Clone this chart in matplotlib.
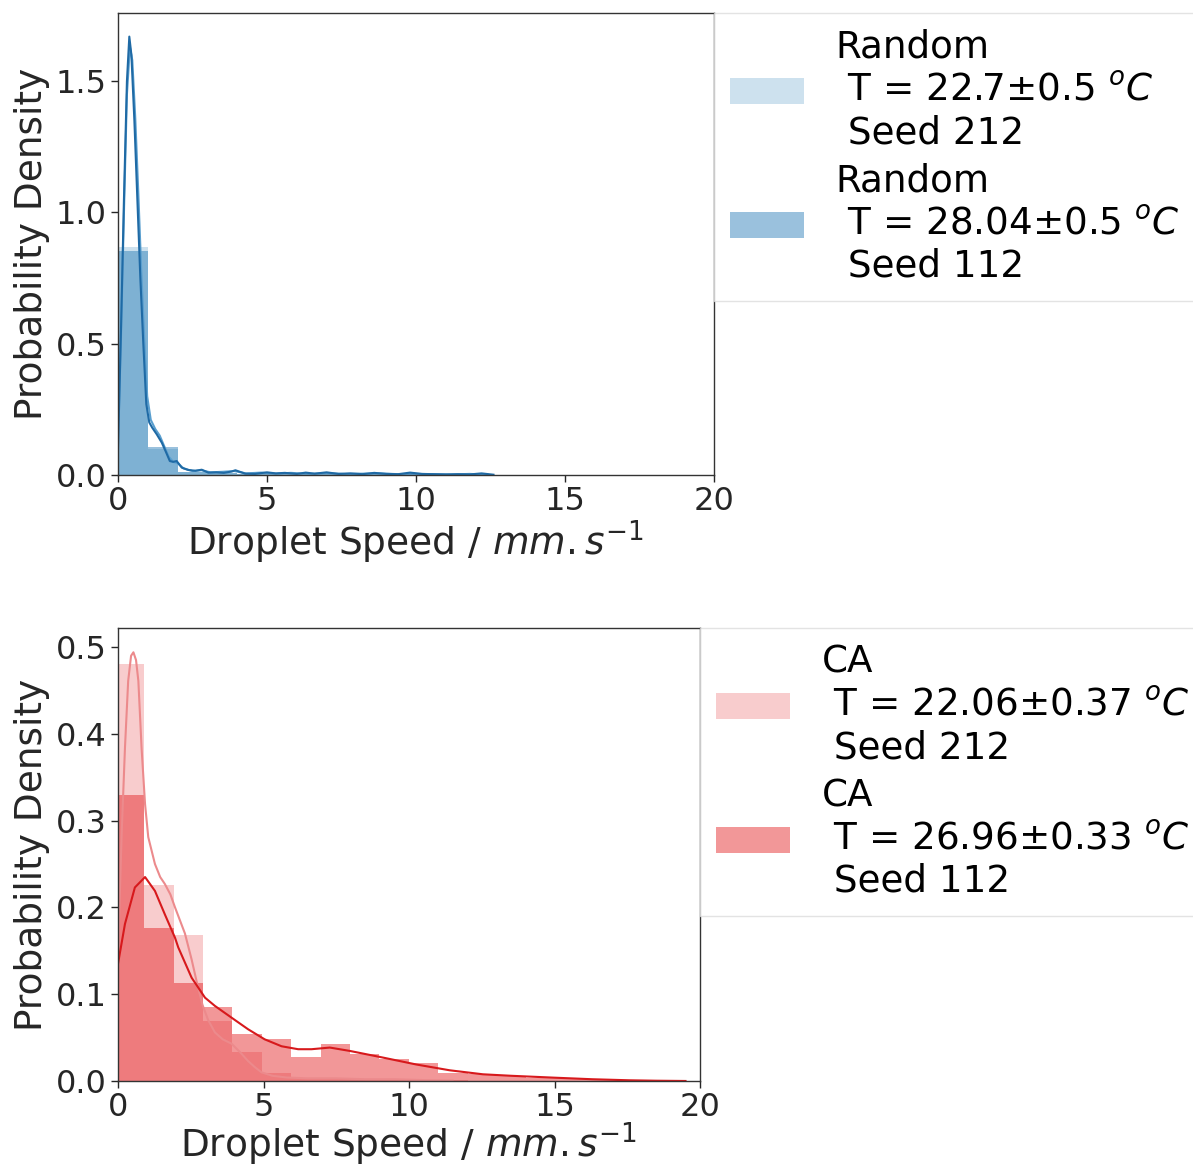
import numpy as np
import matplotlib
matplotlib.use("Agg")
import matplotlib.pyplot as plt

# ---- top panel: Random, histogram bins (width 1) ----
rand_edges = [0, 1, 2, 3, 4, 5, 6, 7, 8, 9, 10, 11, 12, 13]
rand_212_hist = [0.87, 0.10, 0.011, 0.006, 0.004, 0.003, 0.003, 0.002, 0.002, 0.001, 0.001, 0.001, 0.001]
rand_112_hist = [0.855, 0.105, 0.012, 0.006, 0.004, 0.003, 0.002, 0.002, 0.002, 0.001, 0.001, 0.001, 0.001]

# kde curves
rand_112_kde_x = [0, 0.1, 0.2, 0.3, 0.38, 0.45, 0.55, 0.65, 0.75, 0.85, 0.95, 1.05, 1.15, 1.3, 1.47,
                  1.6, 1.74, 1.85, 1.97, 2.14, 2.36, 2.6, 2.81, 3.03, 3.3, 3.55, 3.81, 3.94, 4.27, 4.6,
                  5.0, 5.3, 5.6, 6.0, 6.3, 6.6, 7.0, 7.4, 7.8, 8.2, 8.6, 9.0, 9.4, 9.8, 10.2, 10.6,
                  11.0, 11.4, 11.8, 12.2, 12.6]
rand_112_kde_y = [0.10, 0.55, 1.05, 1.50, 1.67, 1.60, 1.35, 1.05, 0.75, 0.50, 0.27, 0.20, 0.18, 0.155, 0.123,
                  0.09, 0.053, 0.05, 0.053, 0.028, 0.019, 0.016, 0.020, 0.009, 0.010, 0.008, 0.013, 0.018, 0.005, 0.004,
                  0.010, 0.006, 0.008, 0.004, 0.009, 0.005, 0.010, 0.004, 0.006, 0.003, 0.008, 0.004, 0.003, 0.009, 0.004, 0.003,
                  0.002, 0.003, 0.002, 0.006, 0.001]
rand_212_kde_x = [0, 0.1, 0.2, 0.3, 0.4, 0.48, 0.58, 0.68, 0.78, 0.88, 0.98, 1.1, 1.25, 1.4, 1.55,
                  1.7, 1.85, 2.0, 2.2, 2.5, 2.8, 3.1, 3.5, 3.9, 4.3, 4.8, 5.3, 5.8, 6.4, 7.0,
                  7.6, 8.2, 8.8, 9.4, 10.0, 10.6, 11.2, 11.8, 12.4]
rand_212_kde_y = [0.12, 0.52, 1.0, 1.45, 1.63, 1.58, 1.36, 1.08, 0.78, 0.52, 0.30, 0.21, 0.175, 0.15, 0.11,
                  0.07, 0.05, 0.045, 0.025, 0.015, 0.018, 0.01, 0.012, 0.015, 0.006, 0.009, 0.005, 0.008, 0.004, 0.007,
                  0.004, 0.005, 0.006, 0.003, 0.004, 0.003, 0.002, 0.004, 0.001]

# ---- bottom panel: CA ----
ca_edges = [0, 0.9, 1.91, 2.92, 3.93, 4.94, 5.95, 6.96, 7.97, 8.98, 9.99, 11.0, 12.01, 13.02,
            14.03, 15.04, 16.05, 17.06, 18.07, 19.08]
ca_212_hist = [0.481, 0.226, 0.168, 0.069, 0.033, 0.009, 0.004, 0.003, 0.002, 0.002, 0.001, 0.001,
               0, 0, 0, 0, 0, 0, 0]
ca_112_hist = [0.33, 0.176, 0.113, 0.085, 0.054, 0.048, 0.028, 0.043, 0.031, 0.025, 0.021, 0.0095,
               0.008, 0.006, 0.004, 0.003, 0.002, 0.001, 0.001]

ca_212_kde_x = [0, 0.05, 0.13, 0.24, 0.35, 0.45, 0.53, 0.62, 0.70, 0.81, 0.93, 1.04, 1.27, 1.45, 1.61,
                1.8, 1.96, 2.13, 2.3, 2.53, 2.7, 2.9, 3.1, 3.33, 3.6, 3.9, 4.2, 4.47, 4.7, 4.93,
                5.3, 5.8, 6.5, 7.5, 8.5, 9.5, 10.5, 11.5]
ca_212_kde_y = [0.14, 0.2, 0.288, 0.384, 0.461, 0.49, 0.494, 0.485, 0.461, 0.384, 0.319, 0.281, 0.25, 0.235, 0.227,
                0.215, 0.200, 0.185, 0.170, 0.14, 0.115, 0.088, 0.07, 0.056, 0.048, 0.043, 0.033, 0.023, 0.016, 0.010,
                0.006, 0.004, 0.003, 0.003, 0.002, 0.002, 0.001, 0.0005]
ca_112_kde_x = [0, 0.24, 0.58, 0.93, 1.27, 1.61, 1.96, 2.07, 2.53, 2.99, 3.33, 3.9, 4.47, 5.04, 5.62,
                6.19, 6.65, 7.28, 7.97, 9.1, 10.25, 11.4, 12.54, 13.5, 15.0, 16.3, 17.57, 18.5, 19.5]
ca_112_kde_y = [0.135, 0.181, 0.223, 0.235, 0.219, 0.192, 0.165, 0.154, 0.119, 0.096, 0.0865, 0.073, 0.0596, 0.048, 0.040,
                0.0366, 0.0366, 0.0385, 0.0346, 0.027, 0.019, 0.0123, 0.0077, 0.006, 0.0038, 0.002, 0.0008, 0.0003, 0.0]

rand_labels = ["Random\n T = 22.7\u00b10.5 $^oC$\n Seed 212",
               "Random\n T = 28.04\u00b10.5 $^oC$\n Seed 112"]
ca_labels = ["CA\n T = 22.06\u00b10.37 $^oC$\n Seed 212",
             "CA\n T = 26.96\u00b10.33 $^oC$\n Seed 112"]

blue = "#1f77b4"
red = "#e31a1c"
txt = "#262626"

fig = plt.figure(figsize=(11.93, 11.69), dpi=100)
ax1 = fig.add_axes([0.0989, 0.5937, 0.4996, 0.3952])
ax2 = fig.add_axes([0.0989, 0.0753, 0.4879, 0.3875])


def draw_panel(ax, edges, h_light, h_dark, kx_l, ky_l, kx_d, ky_d, col, line_l, line_d, labels, xpad):
    edges = np.array(edges)
    widths = np.diff(edges)
    ax.bar(edges[:-1], h_light, width=widths, align="edge", color=col, alpha=0.22,
           linewidth=0, label=labels[0])
    ax.plot(kx_l, ky_l, color=line_l, lw=1.5)
    ax.bar(edges[:-1], h_dark, width=widths, align="edge", color=col, alpha=0.45,
           linewidth=0, label=labels[1])
    ax.plot(kx_d, ky_d, color=line_d, lw=1.5)
    ax.set_xlim(0, 20)
    ax.set_xticks([0, 5, 10, 15, 20])
    ax.set_xlabel("Droplet Speed / $mm.s^{-1}$", fontsize=27, color=txt, labelpad=xpad)
    ax.set_ylabel("Probability Density", fontsize=27, color=txt, labelpad=4)
    ax.tick_params(labelsize=23, colors=txt, length=5, width=1, direction="out", pad=3)
    for s in ax.spines.values():
        s.set_color("#333333")
        s.set_linewidth(1.0)
    leg = ax.legend(loc="upper left", bbox_to_anchor=(1.0, 1.0), borderaxespad=0,
                    fontsize=26.8, frameon=True, handlelength=2.0, handleheight=0.7,
                    handletextpad=0.85, labelspacing=0.3, borderpad=0.42)
    leg.get_frame().set_edgecolor("#dddddd")
    leg.get_frame().set_linewidth(1.0)
    leg.get_frame().set_boxstyle("square", pad=0)
    for t in leg.get_texts():
        t.set_color("black")


draw_panel(ax1, rand_edges, rand_212_hist, rand_112_hist,
           rand_212_kde_x, rand_212_kde_y, rand_112_kde_x, rand_112_kde_y,
           blue, "#5a9fcf", "#1f6aa5", rand_labels, 1)
ax1.set_ylim(0, 1.76)
ax1.set_yticks([0.0, 0.5, 1.0, 1.5])

draw_panel(ax2, ca_edges, ca_212_hist, ca_112_hist,
           ca_212_kde_x, ca_212_kde_y, ca_112_kde_x, ca_112_kde_y,
           red, "#ec8a8c", "#d7191c", ca_labels, -2)
ax2.set_ylim(0, 0.522)
ax2.set_yticks([0.0, 0.1, 0.2, 0.3, 0.4, 0.5])

fig.savefig("out.png", dpi=100)
